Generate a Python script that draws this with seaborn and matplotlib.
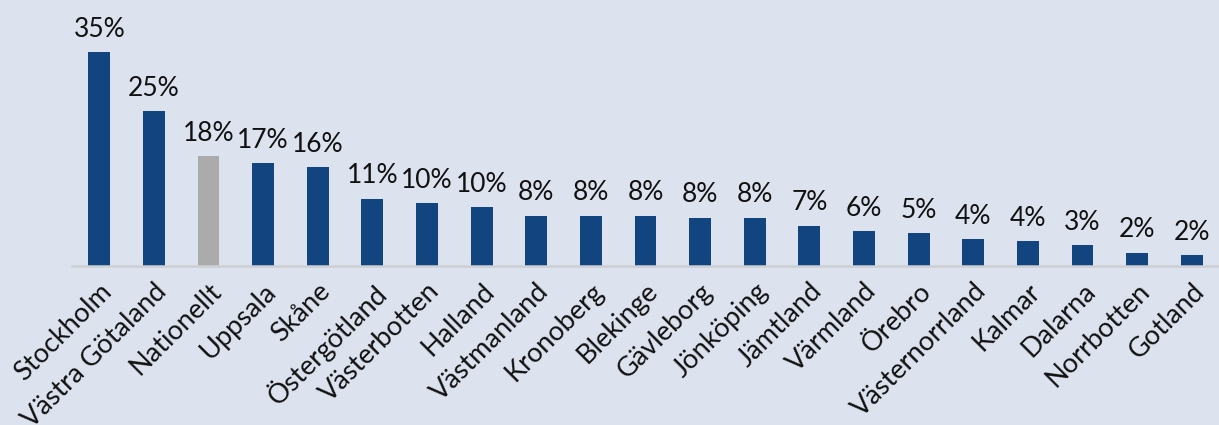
import matplotlib
matplotlib.use("Agg")
import matplotlib.pyplot as plt
import seaborn as sns
import pandas as pd

regions = ["Stockholm", "Västra Götaland", "Nationellt", "Uppsala", "Skåne",
           "Östergötland", "Västerbotten", "Halland", "Västmanland", "Kronoberg",
           "Blekinge", "Gävleborg", "Jönköping", "Jämtland", "Värmland", "Örebro",
           "Västernorrland", "Kalmar", "Dalarna", "Norrbotten", "Gotland"]
values = [35.0, 25.3, 18.0, 16.8, 16.2, 11.0, 10.3, 9.6, 8.2, 8.2, 8.2,
          7.9, 7.9, 6.6, 5.7, 5.4, 4.4, 4.1, 3.4, 2.2, 1.8]

bg = "#DCE3EE"
blue = "#12457F"
grey = "#ABABAB"

sns.set_theme(style="white")
plt.rcParams["font.family"] = ["Lato", "DejaVu Sans"]

df = pd.DataFrame({"region": regions, "value": values})
palette = {r: (grey if r == "Nationellt" else blue) for r in regions}

fig = plt.figure(figsize=(12.19, 4.25), dpi=100, facecolor=bg)
ax = fig.add_axes([72 / 1219, 159 / 425, (1219 - 72) / 1219, 266 / 425])
ax.set_facecolor(bg)

sns.barplot(data=df, x="region", y="value", hue="region", palette=palette,
            width=0.4, legend=False, ax=ax, saturation=1, linewidth=0,
            edgecolor="none")

ax.set_xlim(-0.5, len(regions) - 0.5)
ax.set_ylim(0, 266 / (214 / 35.0))

for i, v in enumerate(values):
    ax.annotate(f"{v:.0f}%", (i, v), xytext=(0, 7.5), textcoords="offset points",
                ha="center", va="bottom", fontsize=19, color="#111111",
                annotation_clip=False)

ax.set_yticks([])
ax.set_xlabel("")
ax.set_ylabel("")
for s in ["top", "right", "left"]:
    ax.spines[s].set_visible(False)
ax.spines["bottom"].set_color("#CDCFD3")
ax.spines["bottom"].set_linewidth(1.8)
ax.tick_params(axis="x", length=0, pad=9)
ax.set_xticks(range(len(regions)))
ax.set_xticklabels(regions, rotation=45, ha="right", rotation_mode="anchor",
                   fontsize=19.5, color="#111111")

fig.savefig("out.png", dpi=100, facecolor=bg)
